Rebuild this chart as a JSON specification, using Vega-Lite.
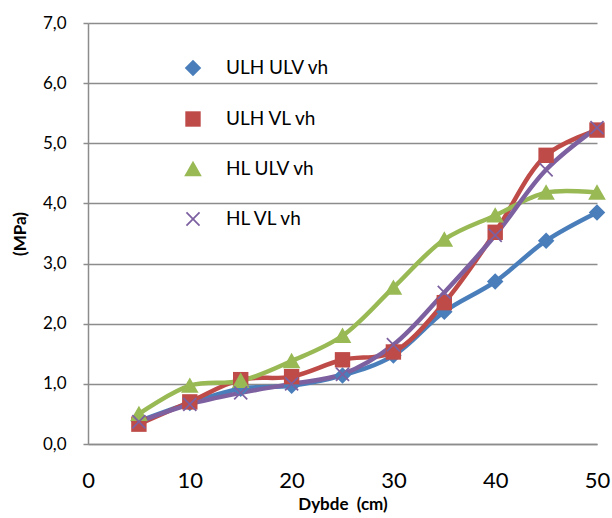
{
  "$schema": "https://vega.github.io/schema/vega-lite/v6.json",
  "width": 509,
  "height": 421,
  "autosize": "none",
  "padding": {"left": 88, "top": 23, "right": 15, "bottom": 74},
  "background": "white",
  "config": {"font": "Lato", "view": {"stroke": null}},
  "data": {
    "values": [
      {"d": 5, "v": 0.38, "s": "ULH ULV vh"},
      {"d": 10, "v": 0.68, "s": "ULH ULV vh"},
      {"d": 15, "v": 0.92, "s": "ULH ULV vh"},
      {"d": 20, "v": 0.97, "s": "ULH ULV vh"},
      {"d": 25, "v": 1.14, "s": "ULH ULV vh"},
      {"d": 30, "v": 1.47, "s": "ULH ULV vh"},
      {"d": 35, "v": 2.2, "s": "ULH ULV vh"},
      {"d": 40, "v": 2.7, "s": "ULH ULV vh"},
      {"d": 45, "v": 3.38, "s": "ULH ULV vh"},
      {"d": 50, "v": 3.85, "s": "ULH ULV vh"},
      {"d": 5, "v": 0.33, "s": "ULH VL vh"},
      {"d": 10, "v": 0.7, "s": "ULH VL vh"},
      {"d": 15, "v": 1.07, "s": "ULH VL vh"},
      {"d": 20, "v": 1.12, "s": "ULH VL vh"},
      {"d": 25, "v": 1.4, "s": "ULH VL vh"},
      {"d": 30, "v": 1.53, "s": "ULH VL vh"},
      {"d": 35, "v": 2.35, "s": "ULH VL vh"},
      {"d": 40, "v": 3.52, "s": "ULH VL vh"},
      {"d": 45, "v": 4.8, "s": "ULH VL vh"},
      {"d": 50, "v": 5.22, "s": "ULH VL vh"},
      {"d": 5, "v": 0.5, "s": "HL ULV vh"},
      {"d": 10, "v": 0.97, "s": "HL ULV vh"},
      {"d": 15, "v": 1.05, "s": "HL ULV vh"},
      {"d": 20, "v": 1.38, "s": "HL ULV vh"},
      {"d": 25, "v": 1.8, "s": "HL ULV vh"},
      {"d": 30, "v": 2.6, "s": "HL ULV vh"},
      {"d": 35, "v": 3.4, "s": "HL ULV vh"},
      {"d": 40, "v": 3.8, "s": "HL ULV vh"},
      {"d": 45, "v": 4.18, "s": "HL ULV vh"},
      {"d": 50, "v": 4.18, "s": "HL ULV vh"},
      {"d": 5, "v": 0.37, "s": "HL VL vh"},
      {"d": 10, "v": 0.66, "s": "HL VL vh"},
      {"d": 15, "v": 0.85, "s": "HL VL vh"},
      {"d": 20, "v": 1.0, "s": "HL VL vh"},
      {"d": 25, "v": 1.16, "s": "HL VL vh"},
      {"d": 30, "v": 1.65, "s": "HL VL vh"},
      {"d": 35, "v": 2.52, "s": "HL VL vh"},
      {"d": 40, "v": 3.47, "s": "HL VL vh"},
      {"d": 45, "v": 4.56, "s": "HL VL vh"},
      {"d": 50, "v": 5.26, "s": "HL VL vh"}
    ]
  },
  "encoding": {
    "x": {
      "field": "d", "type": "quantitative",
      "scale": {"domain": [0, 50], "nice": false},
      "axis": {
        "title": "Dybde\u00a0 (cm)", "titleFontSize": 17, "titleFontWeight": "bold", "titleColor": "#000",
        "titlePadding": 5,
        "values": [0, 10, 20, 30, 40, 50],
        "labelFontSize": 22, "labelColor": "#000", "labelPadding": 26,
        "ticks": false, "grid": false,
        "domainColor": "#8c8c8c", "domainWidth": 1.5,
        "labelFlush": false, "labelOverlap": false
      }
    },
    "y": {
      "field": "v", "type": "quantitative",
      "scale": {"domain": [0, 7], "nice": false},
      "axis": {
        "title": "(MPa)", "titleFontSize": 17, "titleFontWeight": "bold", "titleColor": "#000",
        "titlePadding": 13,
        "values": [0, 1, 2, 3, 4, 5, 6, 7],
        "labelExpr": "replace(format(datum.value, '.1f'), '.', ',')",
        "labelFontSize": 17, "labelColor": "#000", "labelPadding": 17,
        "tickSize": 5, "tickColor": "#8c8c8c", "tickWidth": 1.5,
        "grid": true, "gridColor": "#8c8c8c", "gridWidth": 1.5,
        "domainColor": "#8c8c8c", "domainWidth": 1.5,
        "labelFlush": false, "labelOverlap": false
      }
    }
  },
  "layer": [
    {
      "mark": {"type": "line", "interpolate": "catmull-rom", "strokeWidth": 4.5},
      "encoding": {
        "color": {
          "field": "s", "type": "nominal",
          "sort": ["ULH ULV vh", "ULH VL vh", "HL ULV vh", "HL VL vh"],
          "scale": {"range": ["#4a7ebb", "#be4b48", "#98b954", "#7d60a0"]},
          "legend": null
        }
      }
    },
    {
      "mark": {"type": "point", "filled": true, "opacity": 1, "size": 3025},
      "encoding": {
        "fill": {
          "field": "s", "type": "nominal",
          "scale": {
            "domain": ["ULH ULV vh", "ULH VL vh", "HL ULV vh", "HL VL vh"],
            "range": ["#4a7ebb", "#be4b48", "#98b954", "#7d60a0"]
          },
          "legend": {
            "orient": "none", "legendX": 75, "legendY": 15,
            "title": null, "padding": 0,
            "symbolSize": 3025, "symbolStrokeWidth": 5, "symbolStrokeColor": "transparent",
            "labelFontSize": 19, "labelColor": "#000", "labelOffset": 3
          }
        },
        "shape": {
          "field": "s", "type": "nominal",
          "scale": {
            "domain": ["ULH ULV vh", "ULH VL vh", "HL ULV vh", "HL VL vh"],
            "range": [
              "M0,-0.3L0.3,0L0,0.3L-0.3,0Z",
              "M-0.28,-0.28H0.28V0.28H-0.28Z",
              "M0,-0.3L0.32,0.26H-0.32Z",
              "M-0.26,-0.215L-0.215,-0.26L0,-0.045L0.215,-0.26L0.26,-0.215L0.045,0L0.26,0.215L0.215,0.26L0,0.045L-0.215,0.26L-0.26,0.215L-0.045,0Z"
            ]
          },
          "legend": {
            "orient": "none", "legendX": 75, "legendY": 15,
            "title": null, "padding": 0,
            "symbolSize": 3025, "symbolStrokeWidth": 5, "symbolStrokeColor": "transparent",
            "labelFontSize": 19, "labelColor": "#000", "labelOffset": 3
          }
        }
      }
    }
  ]
}
